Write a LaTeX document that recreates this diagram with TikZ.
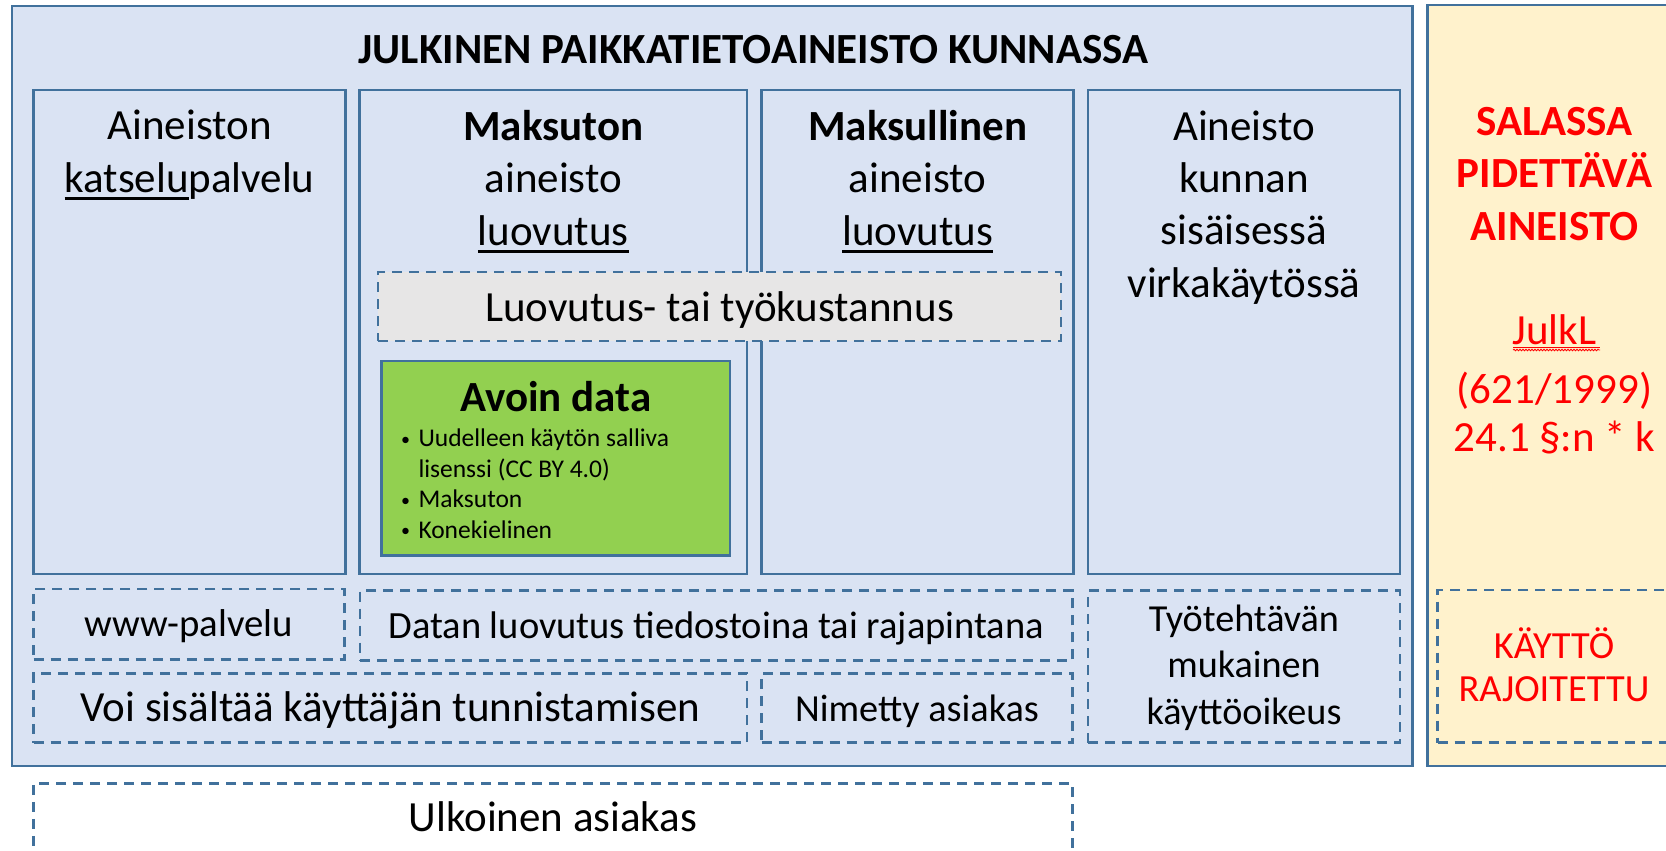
\documentclass[tikz,border=0pt]{standalone}
\usepackage{fontspec}
\setmainfont{Carlito}
\usetikzlibrary{fit,decorations.pathmorphing}
\definecolor{bgblue}{HTML}{DAE3F3}
\definecolor{edge}{HTML}{41719C}
\definecolor{ylw}{HTML}{FFF2CC}
\definecolor{grn}{HTML}{92D050}
\definecolor{gry}{HTML}{E7E6E6}
\definecolor{rd}{HTML}{FF0000}
\newcommand\myul[1]{\setbox0\hbox{#1}\rlap{\rule[-7.9pt]{\wd0}{2.6pt}}\box0}
\newcommand\fsz[2]{\fontsize{#1}{#2}\selectfont}
\newcommand\mybul{\makebox[19.3pt][l]{\hspace{2pt}\raisebox{1.8pt}{\fontsize{18}{18}\selectfont\textbullet}}}
\begin{document}
\begin{tikzpicture}[x=1pt,y=-1pt,
  solidbox/.style={draw=edge,line width=2.5pt,fill=bgblue,inner sep=0pt},
  dashbox/.style={draw=edge,line width=2.5pt,dash pattern=on 10pt off 7pt,inner sep=0pt},
  txt/.style={anchor=base,inner sep=0pt,align=center,text=black},
  redtxt/.style={txt,text=rd},
]
\useasboundingbox (0,0) rectangle (1666,851);
% main frames
\node[solidbox,fit={(11.8,6) (1412.6,766)}] (outer) {};
\node[solidbox,fill=ylw,fit={(1427.6,5) (1681,766)}] (secret) {};
% columns
\node[solidbox,fit={(33.7,90) (345.5,574)}] (col1) {};
\node[solidbox,fit={(359.4,90) (747.2,574)}] (col2) {};
\node[solidbox,fit={(761.7,90) (1073.6,574)}] (col3) {};
\node[solidbox,fit={(1088.2,90) (1400,574)}] (col4) {};
% cost box and open data
\node[dashbox,fill=gry,fit={(378,272) (1061,341)}] (cost) {};
\node[solidbox,fill=grn,fit={(381.7,361) (730,555.7)}] (open) {};
% dashed boxes
\node[dashbox,fit={(33.7,589) (344.4,659.3)}] (www) {};
\node[dashbox,fit={(360,590.7) (1072.6,660.7)}] (data) {};
\node[dashbox,fit={(33.7,673.3) (747.2,742.7)}] (auth) {};
\node[dashbox,fit={(761.7,673.3) (1072.6,742.7)}] (named) {};
\node[dashbox,fit={(1088.2,590.7) (1400,742.7)}] (duty) {};
\node[dashbox,fit={(1437.7,590) (1670,742.7)}] (restr) {};
\node[dashbox,fit={(33.7,783.3) (1072.6,880)}] (ext) {};
% texts (anchor base = baseline of the last line)
\node[txt,font=\bfseries\fsz{43}{52}] (title) at (753.3,63.3) {JULKINEN PAIKKATIETOAINEISTO KUNNASSA};
\node[txt,font=\fsz{43}{52.5}] (t1) at (189.6,192) {Aineiston\\\myul{katselu}palvelu};
\node[txt,font=\fsz{43}{52.5}] (t2) at (553.3,245) {\textbf{Maksuton}\\aineisto\\\myul{luovutus}};
\node[txt,font=\fsz{43}{52.5}] (t3) at (917.6,245) {\textbf{Maksullinen}\\aineisto\\\myul{luovutus}};
\node[txt,font=\fsz{43}{52.3}] (t4) at (1244,297) {Aineisto\\kunnan\\sisäisessä\\virkakäytössä};
\node[redtxt,font=\bfseries\fsz{43}{52.5}] (s1) at (1554.5,240) {SALASSA\\PIDETTÄVÄ\\AINEISTO};
\node[redtxt,font=\fsz{43}{48.5}] (s2) at (1554.5,451.7) {JulkL\\[10.5pt](621/1999)\\24.1 §:n * k};
\draw[rd,line width=1.4pt] (1513,347.5) -- (1600,347.5);
\draw[rd,line width=0.8pt,decorate,decoration={snake,amplitude=0.8pt,segment length=3pt}] (1513,350) -- (1600,350);
\node[txt,font=\fsz{43}{52}] (costt) at (719.5,321) {Luovutus- tai työkustannus};
\node[txt,font=\bfseries\fsz{43}{52}] (opent) at (555.8,411.7) {Avoin data};
\node[anchor=base west,inner sep=0pt,align=left,font=\fsz{25.5}{30.5}] (bul) at (399,538.3)
  {\mybul Uudelleen käytön salliva\\\hspace*{19.3pt}lisenssi (CC BY 4.0)\\\mybul Maksuton\\\mybul Konekielinen};
\node[txt,font=\fsz{38.8}{46}] (wwwt) at (189,636.7) {www-palvelu};
\node[txt,font=\fsz{38.5}{46}] (datat) at (716.3,638.3) {Datan luovutus tiedostoina tai rajapintana};
\node[txt,font=\fsz{43}{52}] (autht) at (390.5,721.7) {Voi sisältää käyttäjän tunnistamisen};
\node[txt,font=\fsz{38.3}{46}] (namedt) at (917,721.7) {Nimetty asiakas};
\node[txt,font=\fsz{38.2}{46.3}] (dutyt) at (1244,724) {Työtehtävän\\mukainen\\käyttöoikeus};
\node[redtxt,font=\fsz{38.4}{43.4}] (restrt) at (1554,701.7) {KÄYTTÖ\\RAJOITETTU};
\node[txt,font=\fsz{43}{52}] (extt) at (553,831.7) {Ulkoinen asiakas};
\end{tikzpicture}
\end{document}
